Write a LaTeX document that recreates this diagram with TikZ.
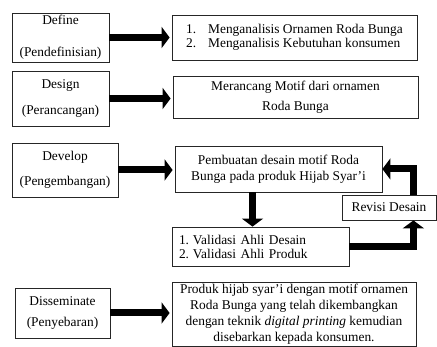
\documentclass[tikz,border=0pt]{standalone}
\usepackage{fontspec}
\setmainfont{Liberation Serif}
\usetikzlibrary{arrows.meta,positioning}

\begin{document}
\begin{tikzpicture}[x=1pt,y=-1pt,
  box/.style={draw=black!85,line width=0.8pt,align=center,inner sep=0pt,
    font=\fontsize{13.4}{15}\selectfont},
  fat/.style={line width=7pt,shorten >=2pt,-{Triangle[length=8pt,width=21pt]}}]
\useasboundingbox (0,0) rectangle (437,347);
\node[box,minimum width=97,minimum height=49] (def) at (60.5,37.5) {Define\\[17pt](Pendefinisian)};
\node[box,minimum width=97,minimum height=55] (des) at (60.5,98.5) {Design\\[11pt](Perancangan)};
\node[box,minimum width=106,minimum height=54] (dev) at (65,170) {Develop\\[10pt](Pengembangan)};
\node[box,minimum width=95,minimum height=50] (dis) at (62.5,313) {Disseminate\\[6pt](Penyebaran)};
\node[box,minimum width=245,minimum height=45,align=left,font=\fontsize{13.4}{14}\selectfont] (analisis) at (294.5,37.5)
  {\makebox[22pt][l]{1.}Menganalisis Ornamen Roda Bunga\\\makebox[22pt][l]{2.}Menganalisis Kebutuhan konsumen};
\node[box,minimum width=245,minimum height=42,font=\fontsize{13.4}{20}\selectfont] (rancang) at (295.5,97)
  {Merancang Motif dari ornamen\\Roda Bunga};
\node[box,minimum width=207,minimum height=46,font=\fontsize{13.4}{16}\selectfont] (buat) at (278.5,169)
  {Pembuatan desain motif Roda\\Bunga pada produk Hijab Syar’i};
\node[box,minimum width=177,minimum height=39,text width=163,align=left,font=\fontsize{13.4}{14}\selectfont] (validasi) at (260.5,246.5)
  {\makebox[14pt][l]{1.}Validasi Ahli Desain\\\makebox[14pt][l]{2.}Validasi Ahli Produk};
\node[box,minimum width=94,minimum height=25] (revisi) at (389,207.5) {Revisi Desain};
\node[box,minimum width=244,minimum height=64,font=\fontsize{13.4}{16}\selectfont] (sebar) at (294,314)
  {Produk hijab syar’i dengan motif ornamen\\Roda Bunga yang telah dikembangkan\\dengan teknik \textit{digital printing} kemudian\\disebarkan kepada konsumen.};
\draw[fat] (def.east) -- (def.east -| analisis.west);
\draw[fat] (des.east) -- (des.east -| rancang.west);
\draw[fat] (dev.east) -- (dev.east -| buat.west);
\draw[fat] (dis.east) -- (dis.east -| sebar.west);
\draw[fat,shorten >=0pt] ([xshift=-26pt]buat.south) -- ([xshift=-26pt]buat.south |- validasi.north);
\draw[fat,shorten >=0pt] (validasi.east) -| ([xshift=-23pt]revisi.south east);
\draw[fat,shorten >=0pt] ([xshift=-23pt]revisi.north east) |- (buat.east);
\end{tikzpicture}
\end{document}
